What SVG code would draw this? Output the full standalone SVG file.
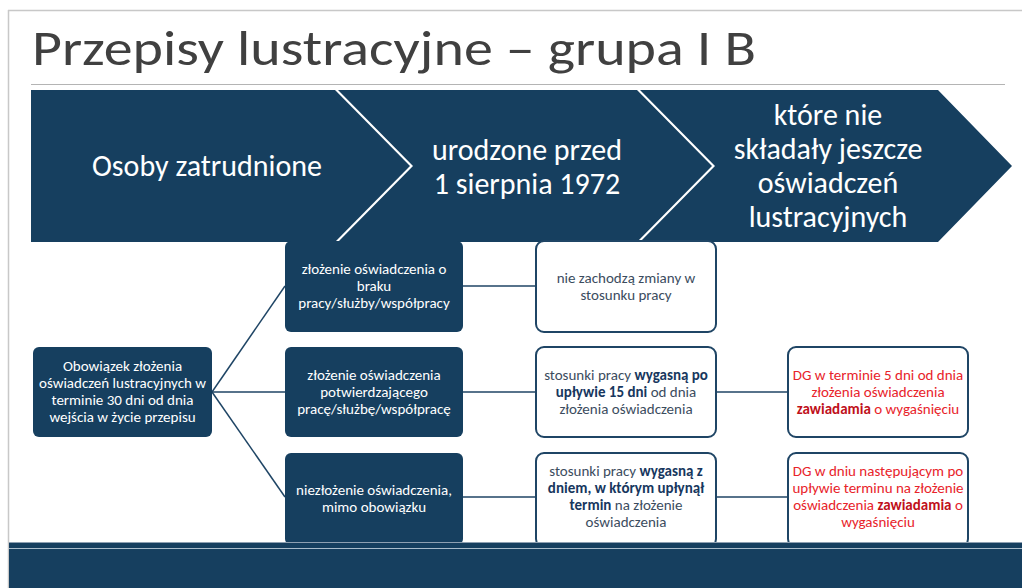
<svg xmlns="http://www.w3.org/2000/svg" width="1022" height="588" viewBox="0 0 1022 588">
<style>
.f{font-family:Carlito,Lato,"Open Sans",sans-serif}
.title{font-size:50px;fill:#404040;font-weight:300}
.chev{fill:#163f5f}
.ct{font-size:30px;fill:#ffffff;text-anchor:middle}
.dk{fill:#163f5f}
.wb{fill:#ffffff;stroke:#1f4565;stroke-width:2}
.tw{font-size:15px;fill:#ffffff;text-anchor:middle}
.tb{font-size:15px;fill:#3b4c5e;text-anchor:middle}
.tr{font-size:15px;fill:#e8232a;text-anchor:middle}
.b{font-weight:bold;fill:#17375e}
.br{font-weight:bold;fill:#c0101a}
.con{stroke:#1f4565;stroke-width:1.5;fill:none}
</style>
<rect x="0" y="0" width="1022" height="588" fill="#ffffff"/>
<line x1="8" y1="10.5" x2="1022" y2="10.5" stroke="#c8c8c8" stroke-width="1.5"/>
<line x1="8.5" y1="10" x2="8.5" y2="588" stroke="#c8c8c8" stroke-width="1.5"/>
<text class="f title" x="32" y="65" textLength="724" lengthAdjust="spacingAndGlyphs">Przepisy lustracyjne – grupa I B</text>
<line x1="31" y1="84.5" x2="1005" y2="84.5" stroke="#b4b4b4" stroke-width="1"/>

<g id="chevron1">
<polygon class="chev" points="31,90 335,90 410,166 335,242 31,242"/>
<text class="f ct" x="207" y="176">Osoby zatrudnione</text>
</g>
<g id="chevron2">
<polygon class="chev" points="338,90 637,90 712,166 637,242 338,242 413,166"/>
<text class="f ct" x="527" y="160">urodzone przed</text>
<text class="f ct" x="527" y="194">1 sierpnia 1972</text>
</g>
<g id="chevron3">
<polygon class="chev" points="640,90 938,90 1012,166 938,242 640,242 715,166"/>
<text class="f ct" x="828" y="125">które nie</text>
<text class="f ct" x="828" y="159">składały jeszcze</text>
<text class="f ct" x="828" y="193">oświadczeń</text>
<text class="f ct" x="828" y="227">lustracyjnych</text>
</g>

<g id="connectors">
<line class="con" x1="212" y1="392" x2="285" y2="286"/>
<line class="con" x1="212" y1="392" x2="285" y2="392"/>
<line class="con" x1="212" y1="392" x2="285" y2="497"/>
<line class="con" x1="463" y1="286" x2="536" y2="286"/>
<line class="con" x1="463" y1="392" x2="536" y2="392"/>
<line class="con" x1="463" y1="497" x2="536" y2="497"/>
<line class="con" x1="716" y1="392" x2="788" y2="392"/>
<line class="con" x1="716" y1="497" x2="788" y2="497"/>
</g>

<g id="obowiazek">
<rect class="dk" x="33" y="347" width="179" height="90" rx="6"/>
<text class="f tw" x="122.5" y="371">Obowiązek złożenia</text>
<text class="f tw" x="122.5" y="388">oświadczeń lustracyjnych w</text>
<text class="f tw" x="122.5" y="405">terminie 30 dni od dnia</text>
<text class="f tw" x="122.5" y="422">wejścia w życie przepisu</text>
</g>

<g id="a1">
<rect class="dk" x="285" y="241" width="178" height="91" rx="6"/>
<text class="f tw" x="374" y="274">złożenie oświadczenia o</text>
<text class="f tw" x="374" y="291">braku</text>
<text class="f tw" x="374" y="308">pracy/służby/współpracy</text>
</g>
<g id="a2">
<rect class="dk" x="285" y="347" width="178" height="90" rx="6"/>
<text class="f tw" x="374" y="380">złożenie oświadczenia</text>
<text class="f tw" x="374" y="397">potwierdzającego</text>
<text class="f tw" x="374" y="414">pracę/służbę/współpracę</text>
</g>
<g id="a3">
<rect class="dk" x="285" y="453" width="178" height="92" rx="6"/>
<text class="f tw" x="374" y="495">niezłożenie oświadczenia,</text>
<text class="f tw" x="374" y="512">mimo obowiązku</text>
</g>

<g id="b1">
<rect class="wb" x="536" y="241" width="180" height="91" rx="8"/>
<text class="f tb" x="626" y="283">nie zachodzą zmiany w</text>
<text class="f tb" x="626" y="300">stosunku pracy</text>
</g>
<g id="b2">
<rect class="wb" x="536" y="347" width="180" height="90" rx="8"/>
<text class="f tb" x="626" y="380">stosunki pracy <tspan class="b">wygasną po</tspan></text>
<text class="f tb" x="626" y="397"><tspan class="b">upływie 15 dni</tspan> od dnia</text>
<text class="f tb" x="626" y="414">złożenia oświadczenia</text>
</g>
<g id="b3">
<rect class="wb" x="536" y="453" width="180" height="94" rx="8"/>
<text class="f tb" x="626" y="476">stosunki pracy <tspan class="b">wygasną z</tspan></text>
<text class="f tb" x="626" y="493"><tspan class="b">dniem, w którym upłynął</tspan></text>
<text class="f tb" x="626" y="510"><tspan class="b">termin</tspan> na złożenie</text>
<text class="f tb" x="626" y="527">oświadczenia</text>
</g>

<g id="c2">
<rect class="wb" x="788" y="347" width="180" height="90" rx="8"/>
<text class="f tr" x="878" y="380">DG w terminie 5 dni od dnia</text>
<text class="f tr" x="878" y="397">złożenia oświadczenia</text>
<text class="f tr" x="878" y="414"><tspan class="br">zawiadamia</tspan> o wygaśnięciu</text>
</g>
<g id="c3">
<rect class="wb" x="788" y="453" width="180" height="94" rx="8"/>
<text class="f tr" x="878" y="476">DG w dniu następującym po</text>
<text class="f tr" x="878" y="493">upływie terminu na złożenie</text>
<text class="f tr" x="878" y="510">oświadczenia <tspan class="br">zawiadamia</tspan> o</text>
<text class="f tr" x="878" y="527">wygaśnięciu</text>
</g>

<rect x="9" y="542" width="1013" height="46" fill="#163f5f"/>
<line x1="9" y1="542.5" x2="1022" y2="542.5" stroke="#8ea0b2" stroke-width="1"/>
<line x1="9" y1="548.5" x2="1022" y2="548.5" stroke="#a9bccb" stroke-width="1"/>
</svg>
